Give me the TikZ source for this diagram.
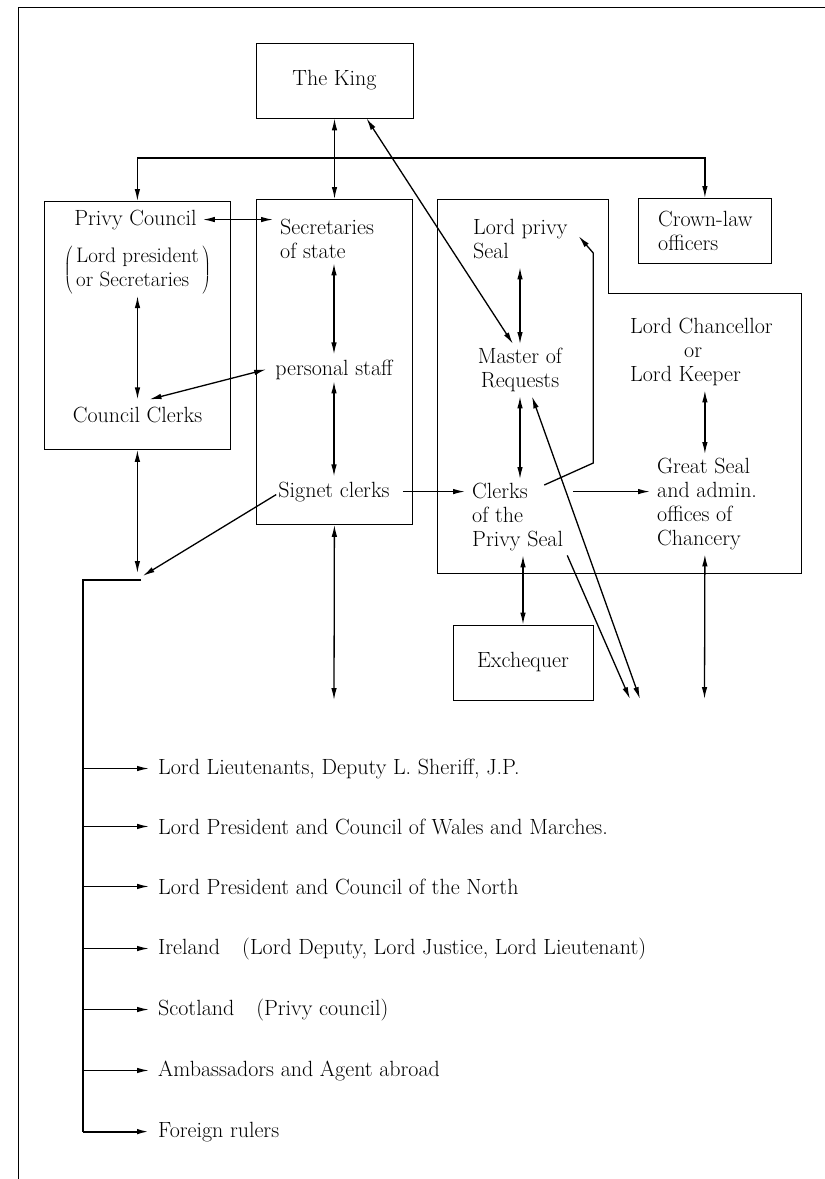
\documentclass[tikz,border=0pt]{standalone}
\usepackage{fontspec}
\usetikzlibrary{arrows.meta,calc}
\newcommand{\mlines}[2][l]{\begin{tabular}[t]{@{}#1@{}}#2\end{tabular}}
\begin{document}
\begin{tikzpicture}[x=1pt,y=-1pt,
  every node/.style={font=\fontsize{22}{24}\selectfont, inner sep=2pt},
  >={Latex[length=12pt,width=5.5pt]},
  box/.style={draw, line width=0.8pt, inner sep=0pt, anchor=north west},
  tbox/.style={draw, line width=0.8pt},
  arr/.style={->, line width=1.3pt},
  dbl/.style={<->, line width=1.3pt},
  framel/.style={line width=0.6pt},
  spine/.style={line width=1.8pt},
  txt/.style={anchor=base west},
]
\useasboundingbox (0,0) rectangle (825,1179);
% outer frame
\draw[framel] (18,1179) -- (18,7) -- (825,7);

% boxes
\node[tbox, minimum width=157pt, minimum height=75pt] (king) at (334.5,80.5) {The King};
\node[box, minimum width=186pt, minimum height=248pt] (pcbox) at (44,201) {};
\node[box, minimum width=156pt, minimum height=325pt] (secbox) at (256,199) {};
\node[box, minimum width=133pt, minimum height=65pt] (crownbox) at (638,198) {};
\node[tbox, minimum width=140pt, minimum height=75pt] (exch) at (523,662.5) {Exchequer};
\draw[line width=0.8pt] (437,199) -- (608,199) -- (608,293) -- (801,293) -- (801,573) -- (437,573) -- cycle;

% texts
\node[anchor=base] (pc) at (135.5,225) {Privy Council};
\node[anchor=base, inner sep=0pt] (pcp) at (137.5,275) {$\left(\,\vcenter{\hbox{\fontsize{21}{24}\selectfont\begin{tabular}{@{}l@{}}Lord president\\or Secretaries\end{tabular}}}\,\right)$};
\node[anchor=base] (cc) at (137.5,422) {Council Clerks};
\node[txt] (sec) at (278,234) {\mlines{Secretaries\\of state}};
\node[anchor=base] (ps) at (334,375) {personal staff};
\node[anchor=base] (sc) at (334,497) {Signet clerks};
\node[txt] (lps) at (471,234) {\mlines{Lord privy\\Seal}};
\node[anchor=base] (mr) at (520,363) {\mlines[c]{Master of\\Requests}};
\node[txt] (cps) at (470,498) {\mlines{Clerks\\of the\\Privy Seal}};
\node[txt] (crown) at (656,226) {\mlines{Crown-law\\officers}};
\node[txt] (lc) at (628,333) {\mlines{Lord Chancellor\\\hspace*{54pt}or\\Lord Keeper}};
\node[txt] (gs) at (655,473) {\mlines{Great Seal\\and admin.\\offices of\\Chancery}};

% list
\node[txt] (li1) at (156,774) {Lord Lieutenants, Deputy L. Sheriff, J.P.};
\node[txt] (li2) at (156,834) {Lord President and Council of Wales and Marches.};
\node[txt] (li3) at (156,894) {Lord President and Council of the North};
\node[txt] (li4) at (156,954) {Ireland\quad(Lord Deputy, Lord Justice, Lord Lieutenant)};
\node[txt] (li5) at (156,1015) {Scotland\quad(Privy council)};
\node[txt] (li6) at (156,1076) {Ambassadors and Agent abroad};
\node[txt] (li7) at (156,1137) {Foreign rulers};

% free ends
\coordinate (sp) at (83,580);
\coordinate (brk) at (141,577);
\coordinate (endA) at (630,699);
\coordinate (endB) at (640,699);
\coordinate (endC) at (704.5,699);
\coordinate (endD) at (334,700);

% connectors
\draw[dbl] (king.south) -- (king.south |- secbox.north);
\draw[dbl] (pcbox.north) -- ++(0,-43) -| (crownbox.north);
\draw[dbl, shorten <=4pt, shorten >=5pt] (pc.east) -- (pc.east -| sec.west);
\draw[dbl, shorten <=2pt] (pcp.south) -- ([yshift=5pt]cc.north);
\draw[dbl] ([xshift=12pt,yshift=5pt]cc.north) -- ([xshift=-7pt]ps.west);
\draw[dbl] ([yshift=4pt]sec.south -| ps.north) -- ([yshift=3pt]ps.north);
\draw[dbl] (ps.south) -- ([yshift=3pt]sc.north);
\draw[dbl] (lps.south -| mr.north) -- (mr.north);
\draw[dbl] (mr.south) -- (mr.south |- cps.north);
\draw[dbl] ([xshift=32pt]king.south) -- ([xshift=-7pt]mr.north);
\draw[dbl] ([xshift=12pt]mr.south) -- (endB);
\draw[arr] ([xshift=2pt]cps.south east) -- (endA);
\draw[arr] ([xshift=-21pt,yshift=-6pt]cps.north east) -- ++(49,-22) -- ++(0,-210) -- ([xshift=9pt,yshift=5pt]lps.east);
\draw[arr, shorten <=11pt, shorten >=5pt] (sc.east) -- (sc.east -| cps.west);
\draw[arr, shorten <=8pt, shorten >=5pt] (sc.east -| cps.east) -- (sc.east -| gs.west);
\draw[dbl] (lc.south -| crownbox.north) -- (gs.north -| crownbox.north);
\draw[dbl] (cps.south -| exch.north) -- (exch.north);
\draw[dbl] (gs.south -| crownbox.north) -- (endC);
\draw[dbl] (secbox.south) -- (endD);
\draw[dbl, shorten >=4pt] (pcbox.south) -- (pcbox.south |- brk);
\draw[arr, shorten >=2pt] ([yshift=-3pt]sc.west) -- (brk);

% distribution bracket
\draw[spine] (sp -| brk) -- (sp) -- (sp |- li7.west);
\draw[arr, spine, shorten >=7pt] (sp |- li7.west) -- (li7.west);
\foreach \i in {1,...,6}{
  \draw[arr, shorten >=7pt] (sp |- li\i.west) -- (li\i.west);
}
\end{tikzpicture}
\end{document}
